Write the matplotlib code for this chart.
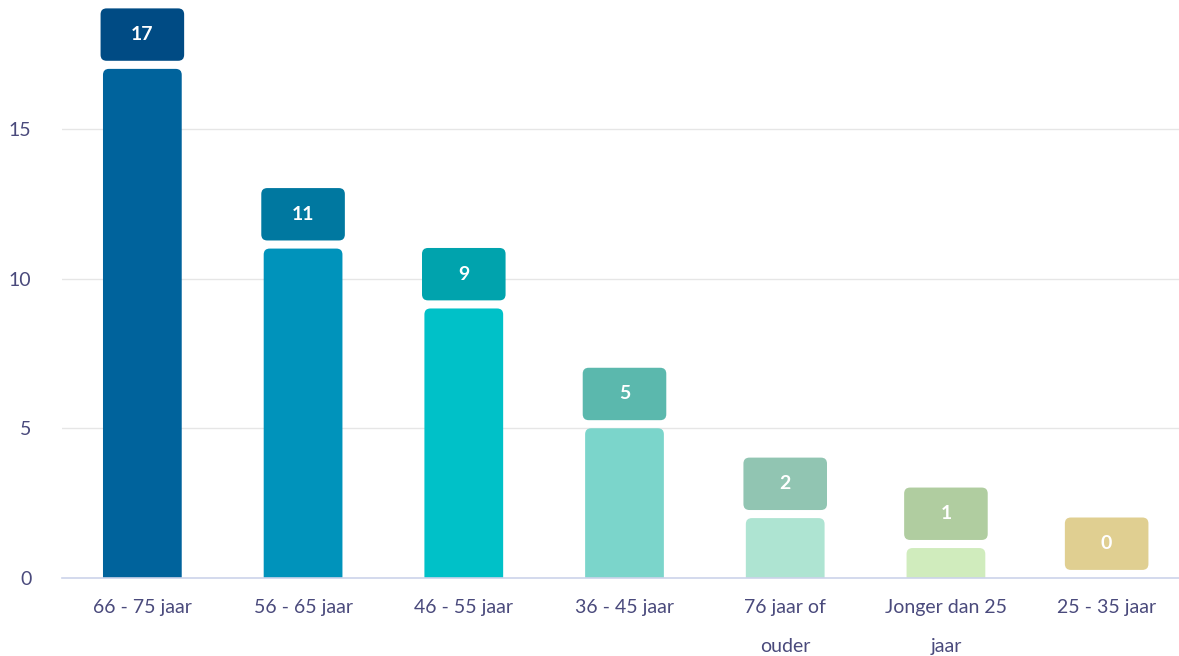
import matplotlib
matplotlib.use("Agg")
import matplotlib.pyplot as plt
from matplotlib.patches import FancyBboxPatch

categories = ["66 - 75 jaar", "56 - 65 jaar", "46 - 55 jaar", "36 - 45 jaar",
              "76 jaar of\nouder", "Jonger dan 25\njaar", "25 - 35 jaar"]
values = [17, 11, 9, 5, 2, 1, 0]
bar_colors = ["#00639c", "#0093bb", "#00c1c8", "#7bd5cb", "#aee4d2", "#d0ecbd", "#f0e3b0"]
box_colors = ["#004b84", "#0078a0", "#00a3ad", "#5bb8ad", "#91c5b2", "#b0cda0", "#e0cf91"]
yticks = [0, 5, 10, 15]

W, H = 1179, 656
fig = plt.figure(figsize=(W / 100, H / 100), dpi=100)
ax_w = 1125
ax = fig.add_axes([62 / W, 78 / H, ax_w / W, 578 / H])

ymax = 19.3
n = len(categories)
ax.set_xlim(-0.5, n - 0.5)
ax.set_ylim(0, ymax)

# pixel-per-unit ratios for rounded corners
px_x = ax_w / n
px_y = 578 / ymax
aspect = px_x / px_y
r = 6 / px_x
r_y = 6 / px_y

for y in yticks[1:]:
    ax.axhline(y, color="#e6e6e6", lw=1, zorder=0)

bar_w = 0.49
box_w = 0.52
box_h = 1.75
gap = 0.27
for i, (v, bc, kc) in enumerate(zip(values, bar_colors, box_colors)):
    if v > 0:
        # start below the baseline so the lower corners are clipped away
        p = FancyBboxPatch((i - bar_w / 2, -2 * r_y), bar_w, v + 2 * r_y,
                           boxstyle=f"round,pad=0,rounding_size={r}",
                           mutation_aspect=aspect, fc=bc, ec="none", zorder=2)
        ax.add_patch(p)
    b = FancyBboxPatch((i - box_w / 2, v + gap), box_w, box_h,
                       boxstyle=f"round,pad=0,rounding_size={r}",
                       mutation_aspect=aspect, fc=kc, ec="none", zorder=3)
    ax.add_patch(b)
    ax.text(i, v + gap + box_h / 2, str(v), ha="center", va="center",
            color="white", fontsize=14, family="Lato", fontweight="bold",
            zorder=4)

for s in ["top", "right", "left"]:
    ax.spines[s].set_visible(False)
ax.spines["bottom"].set_color("#ccd3ea")
ax.spines["bottom"].set_linewidth(1.2)
ax.spines["bottom"].set_zorder(5)

ax.set_xticks(range(n))
ax.set_xticklabels(categories, family="Lato", fontsize=14, color="#4a4a7c",
                   linespacing=2.6, va="top")
ax.set_yticks(yticks)
ax.set_yticklabels([str(t) for t in yticks], family="Lato", fontsize=14,
                   color="#4a4a7c")
ax.tick_params(axis="x", length=0, pad=15)
ax.tick_params(axis="y", length=0, pad=22)

fig.savefig("out.png", dpi=100, facecolor="white")
